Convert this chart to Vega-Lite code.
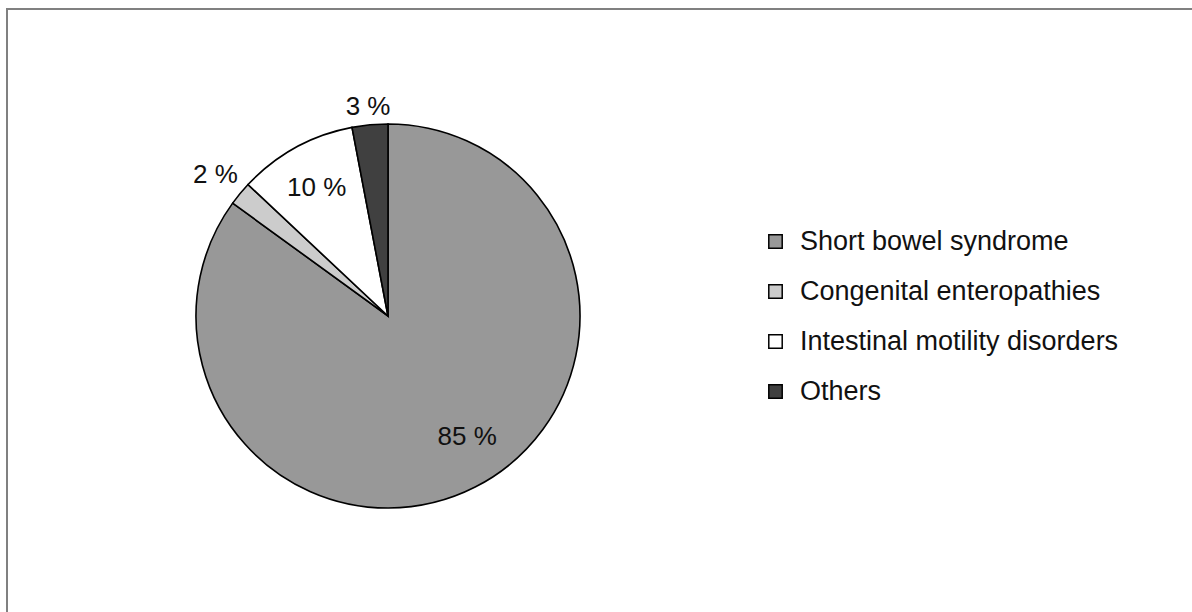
{
  "$schema": "https://vega.github.io/schema/vega-lite/v6.json",
  "autosize": "none",
  "padding": {"left": 7, "top": 9, "right": 0, "bottom": 0},
  "width": 1186,
  "height": 604,
  "background": "white",
  "config": {
    "view": {"stroke": null},
    "font": "Liberation Sans",
    "text": {"fontSize": 26, "color": "#111111", "x": 381, "y": 307, "dy": 2}
  },
  "layer": [
    {
      "description": "Frame around the figure",
      "data": {"values": [{}]},
      "mark": {"type": "rect", "fill": null, "stroke": "#808080", "strokeWidth": 2},
      "encoding": {}
    },
    {
      "data": {
        "values": [
          {"idx": 1, "category": "Short bowel syndrome", "value": 85, "label": "85 %"},
          {"idx": 2, "category": "Congenital enteropathies", "value": 2, "label": "2 %"},
          {"idx": 3, "category": "Intestinal motility disorders", "value": 10, "label": "10 %"},
          {"idx": 4, "category": "Others", "value": 3, "label": "3 %"}
        ]
      },
      "encoding": {
        "theta": {"field": "value", "type": "quantitative", "stack": true},
        "order": {"field": "idx", "type": "quantitative"}
      },
      "layer": [
        {
          "mark": {"type": "arc", "outerRadius": 192, "x": 381, "y": 307, "stroke": "black", "strokeWidth": 1.6},
          "encoding": {
            "color": {
              "field": "category",
              "type": "nominal",
              "sort": ["Short bowel syndrome", "Congenital enteropathies", "Intestinal motility disorders", "Others"],
              "scale": {
                "domain": ["Short bowel syndrome", "Congenital enteropathies", "Intestinal motility disorders", "Others"],
                "range": ["#989898", "#cccccc", "#ffffff", "#404040"]
              },
              "legend": {
                "orient": "none",
                "legendX": 755,
                "legendY": 219,
                "title": null,
                "symbolType": "square",
                "symbolSize": 180,
                "symbolStrokeColor": "black",
                "symbolStrokeWidth": 1.5,
                "labelFontSize": 27,
                "labelColor": "#111111",
                "labelOffset": 11,
                "rowPadding": 22,
                "labelLimit": 500
              }
            }
          }
        },
        {
          "mark": {"type": "text", "radius": 143, "thetaOffset": -0.115},
          "encoding": {"text": {"condition": {"test": "datum.idx == 1", "field": "label"}, "value": ""}}
        },
        {
          "mark": {"type": "text", "radius": 224},
          "encoding": {"text": {"condition": {"test": "datum.idx == 2", "field": "label"}, "value": ""}}
        },
        {
          "mark": {"type": "text", "radius": 148},
          "encoding": {"text": {"condition": {"test": "datum.idx == 3", "field": "label"}, "value": ""}}
        },
        {
          "mark": {"type": "text", "radius": 212},
          "encoding": {"text": {"condition": {"test": "datum.idx == 4", "field": "label"}, "value": ""}}
        }
      ]
    }
  ]
}
